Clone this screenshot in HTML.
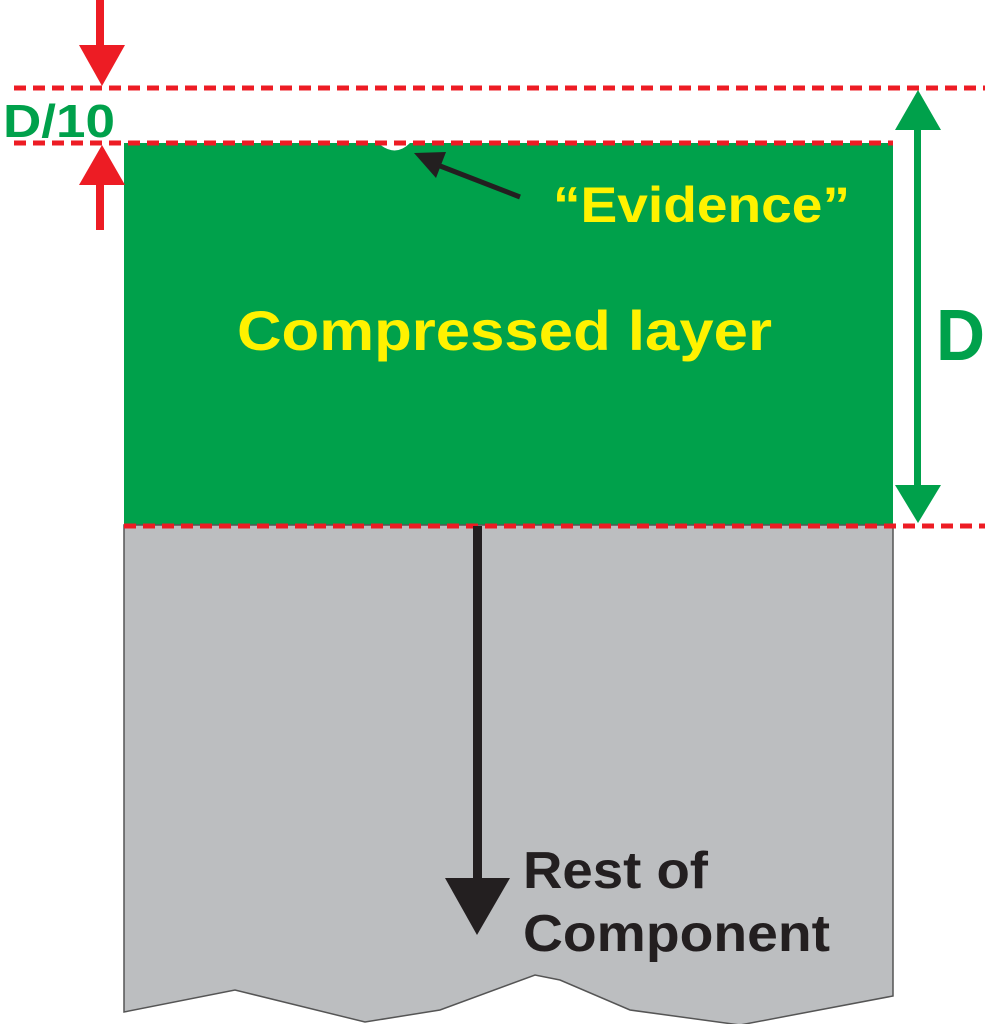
<!DOCTYPE html>
<html><head><style>body{margin:0;background:#fff}svg{display:block}</style></head><body>
<svg width="985" height="1024" viewBox="0 0 985 1024" xmlns="http://www.w3.org/2000/svg" font-family="Liberation Sans, sans-serif" font-weight="bold">
<rect x="124" y="143" width="769" height="382" fill="#00a14b"/>
<path d="M124 525 H893 V996 L740 1025 L630 1010 L560 980 L535 975 L440 1010 L365 1022 L235 990 L124 1012 Z" fill="#bcbec0" stroke="#555" stroke-width="1.5"/>
<path d="M378 143 Q395 158 410 143 Z" fill="#fff"/>
<g stroke="#ed1c24" stroke-width="5" stroke-dasharray="12 7">
<line x1="14" y1="88" x2="985" y2="88"/>
<line x1="14" y1="143" x2="893" y2="143"/>
<line x1="124" y1="526" x2="985" y2="526"/>
</g>
<g fill="#ed1c24">
<rect x="96" y="0" width="8" height="50"/><polygon points="79,45 125,45 102,86"/>
<rect x="96" y="180" width="8" height="50"/><polygon points="79,185 125,185 102,145"/>
</g>
<g fill="#00a14b">
<rect x="914" y="120" width="7" height="375"/>
<polygon points="895,130 941,130 918,90"/><polygon points="895,485 941,485 918,523"/>
<text x="3" y="137" font-size="46" textLength="112" lengthAdjust="spacingAndGlyphs">D/10</text>
<text x="936" y="360" font-size="72" textLength="49" lengthAdjust="spacingAndGlyphs">D</text>
</g>
<line x1="520" y1="197" x2="435" y2="164" stroke="#231f20" stroke-width="5"/>
<polygon points="414,153 446,152 436,178" fill="#231f20"/>
<text x="553" y="222" font-size="50" fill="#fff200" textLength="297" lengthAdjust="spacingAndGlyphs">“Evidence”</text>
<text x="237" y="350" font-size="56" fill="#fff200" textLength="535" lengthAdjust="spacingAndGlyphs">Compressed layer</text>
<rect x="473" y="526" width="9" height="360" fill="#231f20"/>
<polygon points="445,878 510,878 477,935" fill="#231f20"/>
<text x="523" y="888" font-size="52" fill="#231f20" textLength="185" lengthAdjust="spacingAndGlyphs">Rest of</text>
<text x="523" y="951" font-size="52" fill="#231f20" textLength="307" lengthAdjust="spacingAndGlyphs">Component</text>
</svg>
</body></html>
